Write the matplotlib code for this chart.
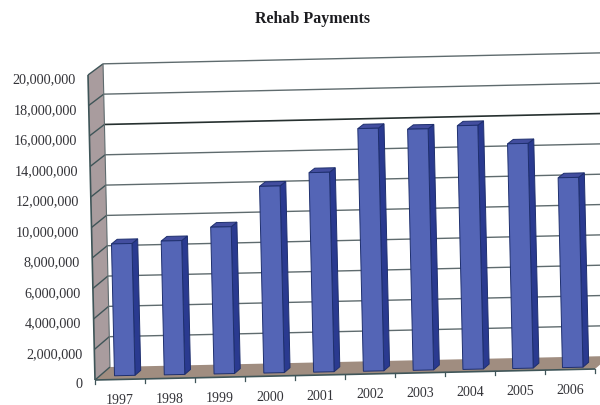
import matplotlib.pyplot as plt
from matplotlib.patches import Polygon

plt.rcParams['font.family'] = ['Liberation Serif', 'DejaVu Serif']

years = ['1997', '1998', '1999', '2000', '2001', '2002', '2003', '2004', '2005', '2006']
payments = [8660000, 8790000, 9640000, 12260000, 13100000,
            15930000, 15830000, 16000000, 14750000, 12460000]
tick_values = [0, 2000000, 4000000, 6000000, 8000000, 10000000,
               12000000, 14000000, 16000000, 18000000, 20000000]

Y_MAX = 20000000
SLOT_PX = 50.0
HEIGHT_PX = 305.0
VALUE_PER_PX = Y_MAX / HEIGHT_PX
N_SLOTS = len(years)

BAR_FRONT = '#5465B6'
BAR_SIDE = '#2A3A90'
BAR_TOP = '#434E9F'
BAR_EDGE = '#1E2F6E'
WALL = '#A99C9E'
FLOOR = '#A08D80'
GRID = '#5F6B6E'
AXIS = '#3F5558'
TEXT = '#333338'


def project(slot, value, depth=0.0):
    ''' Slot, value and depth to axes data, with the tilt and depth of the 3d look. '''
    value = value * (1 - 0.006 * depth)
    x = slot - 7.0 / SLOT_PX * (value / Y_MAX) + 15.0 / SLOT_PX * depth
    y = value + 1.1 * VALUE_PER_PX * slot + 13.0 * VALUE_PER_PX * depth
    return x, y


def poly(ax, corners, **kwargs):
    ax.add_patch(Polygon([project(*c) for c in corners], closed=True, **kwargs))


def line(ax, start, end, **kwargs):
    (x0, y0), (x1, y1) = project(*start), project(*end)
    ax.plot([x0, x1], [y0, y1], solid_capstyle='butt', **kwargs)


def draw_box(ax, slot, value):
    left, right = slot + 0.30, slot + 0.71
    # boxes sit a little nearer the front towards the right of the scan
    front = 0.30 - 0.015 * slot
    back = front + 0.38
    edge = dict(edgecolor=BAR_EDGE, linewidth=0.7, zorder=5)
    poly(ax, [(right, 0, front), (right, 0, back), (right, value, back), (right, value, front)],
         facecolor=BAR_SIDE, **edge)
    poly(ax, [(left, value, front), (right, value, front), (right, value, back), (left, value, back)],
         facecolor=BAR_TOP, **edge)
    poly(ax, [(left, 0, front), (right, 0, front), (right, value, front), (left, value, front)],
         facecolor=BAR_FRONT, **edge)


def plot_rehab_payments():
    fig = plt.figure(figsize=(6.0, 4.06), dpi=100)
    ax = fig.add_axes([0, 0, 1, 1])
    ax.set_xlim(-95 / SLOT_PX, 505 / SLOT_PX)
    ax.set_ylim(-25 * VALUE_PER_PX, 381 * VALUE_PER_PX)
    ax.axis('off')

    # side wall and floor
    poly(ax, [(0, 0, 0), (0, 0, 1), (0, Y_MAX, 1), (0, Y_MAX, 0)],
         facecolor=WALL, edgecolor='none', zorder=1)
    poly(ax, [(0, 0, 0), (N_SLOTS, 0, 0), (N_SLOTS, 0, 1), (0, 0, 1)],
         facecolor=FLOOR, edgecolor='none', zorder=1)

    # gridlines on both walls, 16M prints darker in the scan
    for v in tick_values:
        dark = v == 16000000
        line(ax, (0, v, 0), (0, v, 1), color=AXIS, linewidth=1.0, zorder=2)
        if v > 0:
            line(ax, (0, v, 1), (N_SLOTS, v, 1), color='#26302F' if dark else GRID,
                 linewidth=1.2 if dark else 1.0, zorder=2)
        x, y = project(0, v)
        ax.annotate(f'{v:,}', (x, y), xytext=(-12, -4), textcoords='offset pixels',
                    ha='right', va='center', fontsize=10.2, color=TEXT)
    line(ax, (0, 0, 1), (0, Y_MAX, 1), color=GRID, linewidth=0.8, zorder=2)

    # axes
    line(ax, (0, 0, 0), (0, Y_MAX, 0), color=AXIS, linewidth=1.2, zorder=3)
    line(ax, (0, 0, 0), (N_SLOTS, 0, 0), color=AXIS, linewidth=1.2, zorder=3)
    for slot in range(N_SLOTS + 1):
        x, y = project(slot, 0)
        ax.plot([x, x], [y, y - 4 * VALUE_PER_PX], color=AXIS, linewidth=0.9, zorder=3)

    for slot, (year, value) in enumerate(zip(years, payments)):
        draw_box(ax, slot, value)
        x, y = project(slot + 0.5, 0)
        ax.annotate(year, (x, y), xytext=(0, -20), textcoords='offset pixels',
                    ha='center', va='center', fontsize=10, color=TEXT)

    fig.text(313 / 600, 1 - 19 / 406, 'Rehab Payments', ha='center', va='center',
             fontsize=11.5, fontweight='bold', color='#1C1C20')
    fig.savefig('out.png', dpi=100)


if __name__ == '__main__':
    plot_rehab_payments()
